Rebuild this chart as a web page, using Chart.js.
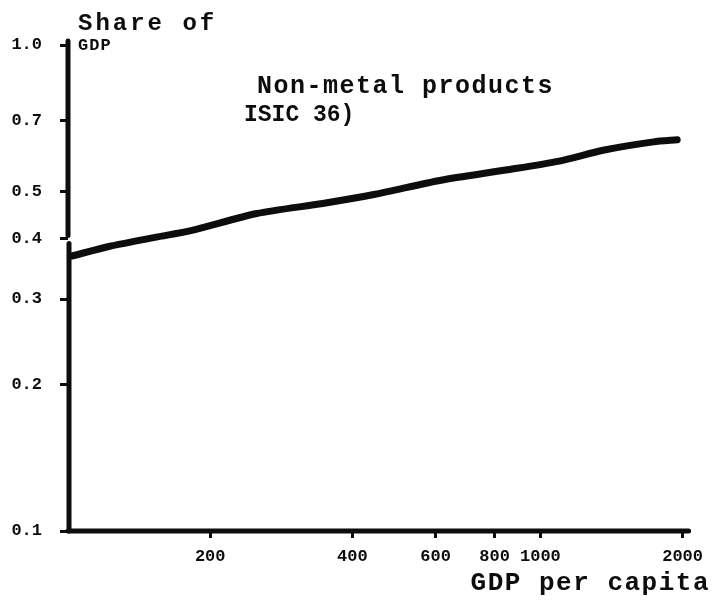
<!DOCTYPE html>
<html>
<head>
<meta charset="utf-8">
<script src="https://cdn.jsdelivr.net/npm/chart.js@4"></script>
<style>
  html, body { margin: 0; padding: 0; background: #fff; }
  #wrap { width: 712px; height: 604px; }
</style>
</head>
<body>
<div id="wrap"><canvas id="c" width="712" height="604"></canvas></div>
<script>
// ---- data ----
const gdpPerCapita = [102, 122, 155, 182, 251, 346, 447, 616, 845, 1096, 1365, 1736, 1948];
const shareOfGdp   = [0.368, 0.385, 0.403, 0.415, 0.450, 0.472, 0.493, 0.527, 0.553, 0.577, 0.608, 0.632, 0.638];
const xTickValues  = [200, 400, 600, 800, 1000, 2000];
const xTickLabels  = ["200", "400", "600", "800", "1000", "2000"];
const yTickValues  = [0.1, 0.2, 0.3, 0.4, 0.5, 0.7, 1.0];
const yTickLabels  = ["0.1", "0.2", "0.3", "0.4", "0.5", "0.7", "1.0"];
const yBreakValue  = 0.4;
const titleLines   = ["Non-metal products", "ISIC 36)"];
const yAxisTitle   = ["Share of", "GDP"];
const xAxisTitle   = "GDP per capita";

const INK = '#0d0d0d';
const MONO = '"Liberation Mono", "DejaVu Sans Mono", monospace';

const points = gdpPerCapita.map((x, i) => ({ x: x, y: shareOfGdp[i] }));

const customAxes = {
  id: 'customAxes',
  afterDraw(chart) {
    const ctx = chart.ctx;
    const ys = chart.scales.y;
    const a = chart.chartArea;
    ctx.save();
    ctx.strokeStyle = INK;
    ctx.lineCap = 'round';
    // y axis line with a break near 0.4
    const yb = ys.getPixelForValue(yBreakValue);
    ctx.lineWidth = 5;
    ctx.beginPath();
    ctx.moveTo(a.left, a.top - 4);
    ctx.lineTo(a.left, yb - 3);
    ctx.stroke();
    ctx.beginPath();
    ctx.moveTo(a.left + 1, yb + 5);
    ctx.lineTo(a.left + 1, a.bottom);
    ctx.stroke();
    // x axis line
    ctx.beginPath();
    ctx.moveTo(a.left, a.bottom);
    ctx.lineTo(a.right + 6, a.bottom);
    ctx.stroke();

    // texts
    ctx.fillStyle = INK;
    ctx.textBaseline = 'alphabetic';
    ctx.textAlign = 'left';
    ctx.letterSpacing = '3px';
    ctx.font = 'bold 24px ' + MONO;
    ctx.fillText(yAxisTitle[0], 78, 30);
    ctx.letterSpacing = '1px';
    ctx.font = 'bold 17px ' + MONO;
    ctx.fillText(yAxisTitle[1], 78, 50);
    ctx.letterSpacing = '1.5px';
    ctx.font = 'bold 25px ' + MONO;
    ctx.fillText(titleLines[0], 257, 93);
    ctx.letterSpacing = '0px';
    ctx.font = 'bold 23px ' + MONO;
    ctx.fillText(titleLines[1], 244, 121);
    ctx.letterSpacing = '1.5px';
    ctx.font = 'bold 26px ' + MONO;
    ctx.textAlign = 'right';
    ctx.fillText(xAxisTitle, 710, 590);
    ctx.restore();
  }
};

new Chart(document.getElementById('c'), {
  type: 'line',
  data: {
    datasets: [{
      data: points,
      borderColor: INK,
      borderWidth: 7,
      borderCapStyle: 'round',
      borderJoinStyle: 'round',
      tension: 0.25,
      pointRadius: 0,
      fill: false
    }]
  },
  options: {
    responsive: false,
    animation: false,
    devicePixelRatio: 1,
    layout: { padding: { top: 45, right: 20, bottom: 0, left: 0 } },
    plugins: { legend: { display: false }, tooltip: { enabled: false }, title: { display: false } },
    scales: {
      x: {
        type: 'logarithmic',
        min: 100, max: 2000,
        afterBuildTicks(s) { s.ticks = xTickValues.map(v => ({ value: v })); },
        afterFit(s) { s.height = 73; },
        border: { display: false },
        grid: { drawOnChartArea: false, drawTicks: true, tickLength: 7, tickWidth: 3, color: INK },
        ticks: {
          autoSkip: false, maxRotation: 0, padding: 9,
          color: INK,
          font: { family: MONO, size: 17, weight: 'bold' },
          callback(v) { const i = xTickValues.indexOf(v); return i >= 0 ? xTickLabels[i] : ''; }
        }
      },
      y: {
        type: 'logarithmic',
        min: 0.1, max: 1.0,
        afterBuildTicks(s) { s.ticks = yTickValues.map(v => ({ value: v })); },
        afterFit(s) { s.width = 68; },
        border: { display: false },
        grid: { drawOnChartArea: false, drawTicks: true, tickLength: 8, tickWidth: 3, color: INK },
        ticks: {
          autoSkip: false, padding: 18,
          color: INK,
          font: { family: MONO, size: 17, weight: 'bold' },
          callback(v) {
            const i = yTickValues.findIndex(t => Math.abs(t - v) < 1e-9);
            return i >= 0 ? yTickLabels[i] : '';
          }
        }
      }
    }
  },
  plugins: [customAxes]
});
</script>
</body>
</html>
